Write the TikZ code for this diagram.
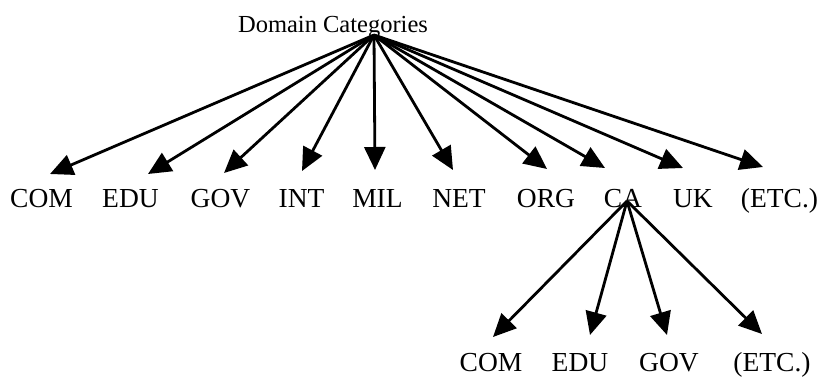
\documentclass[tikz,border=0pt]{standalone}
\usepackage{fontspec}
\setmainfont{Liberation Serif}
\usetikzlibrary{arrows.meta}
\begin{document}
\begin{tikzpicture}[x=1pt,y=-1pt,
  label/.style={anchor=base,inner sep=0pt,font=\fontsize{27.5}{30}\selectfont},
  rootlabel/.style={anchor=base,inner sep=0pt,font=\fontsize{24.5}{27}\selectfont},
  link/.style={line width=2.8pt,-{Triangle[length=23pt,width=21pt]}}]
\useasboundingbox (0,0) rectangle (823,378);

% root of the tree
\node[rootlabel] (root) at (333,32) {Domain Categories};

% top-level domains
\node[label] (com) at (41.5,207) {COM};
\node[label] (edu) at (130.5,207) {EDU};
\node[label] (gov) at (220.5,207) {GOV};
\node[label] (int) at (301.5,207) {INT};
\node[label] (mil) at (377.5,207) {MIL};
\node[label] (net) at (459,207) {NET};
\node[label] (org) at (546,207) {ORG};
\node[label] (ca)  at (623,207) {CA};
\node[label] (uk)  at (693,207) {UK};
\node[label] (etc) at (779.5,207) {(ETC.)};

% second-level domains under CA
\node[label] (cacom) at (491,371) {COM};
\node[label] (caedu) at (580,371) {EDU};
\node[label] (cagov) at (669,371) {GOV};
\node[label] (caetc) at (772,371) {(ETC.)};

% arrows from the root
\foreach \n/\dx/\dy in {com/8.5/33, edu/17.5/33, gov/3.5/34, int/0.5/36,
                        mil/-2.5/37, net/-6/37, org/1/38, ca/-18/39,
                        uk/-10/39, etc/-16.5/40}
  \draw[link] ([xshift=41pt,yshift=-3pt]root.base) -- ([xshift=\dx pt,yshift=\dy pt]\n.base);

% arrows from CA
\foreach \n/\dx/\dy in {cacom/2/34, caedu/10/36, cagov/-2/36, caetc/-10/37}
  \draw[link] ([xshift=4pt,yshift=6pt]ca.base) -- ([xshift=\dx pt,yshift=\dy pt]\n.base);
\end{tikzpicture}
\end{document}
